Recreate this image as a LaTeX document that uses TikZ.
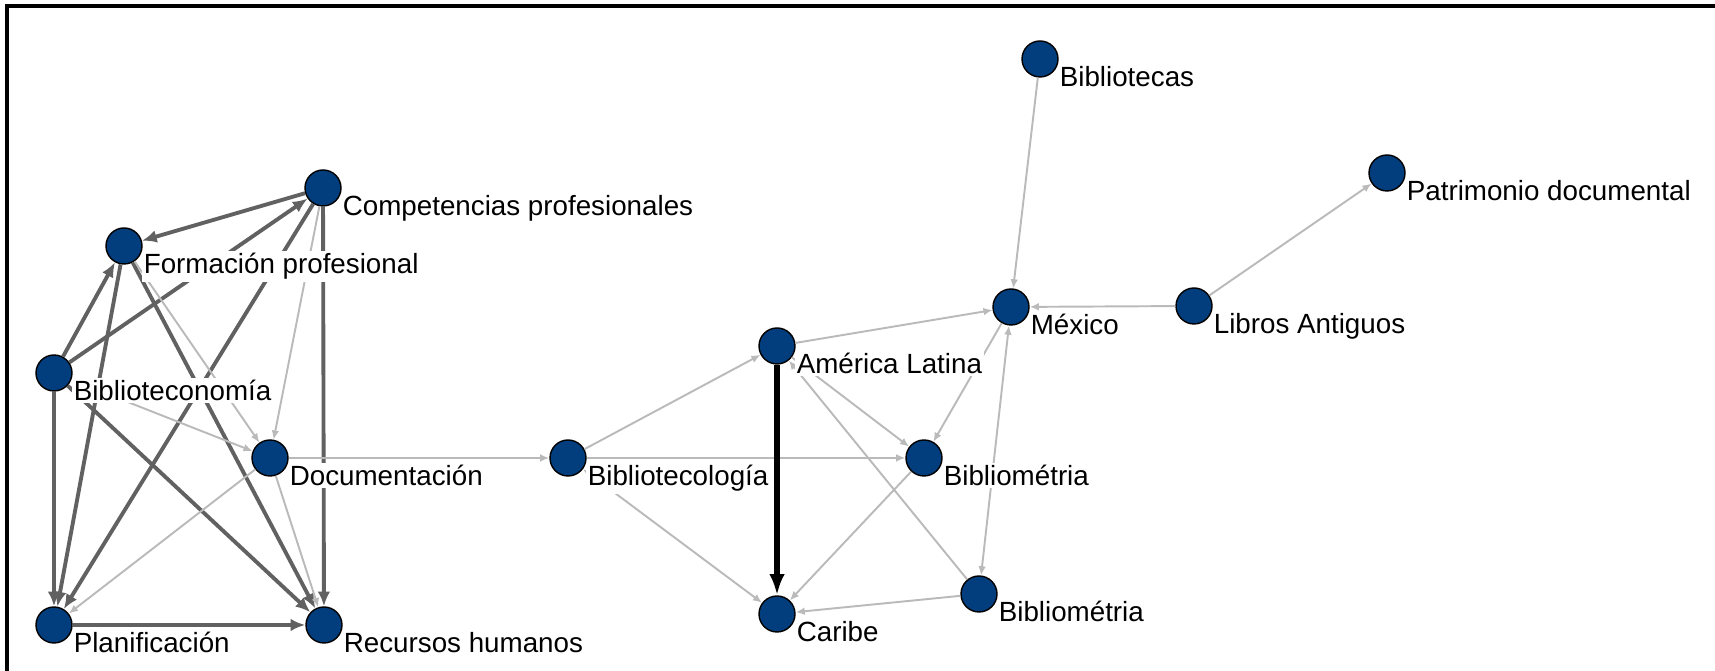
\documentclass[tikz,border=0pt]{standalone}
\usepackage{fontspec}
\setmainfont{Liberation Sans}
\usetikzlibrary{arrows.meta}

\definecolor{kwblue}{HTML}{023E7D}

\begin{document}
\begin{tikzpicture}[>=Latex,
  kw/.style={circle, draw=black, line width=0.4pt, fill=kwblue, minimum size=0.36cm, inner sep=0pt},
  lbl/.style={anchor=base west, fill=white, inner sep=0.6pt, font=\fontsize{7.9pt}{9pt}\selectfont},
  heavy/.style={draw=black!62, line width=1.1pt, -{Latex[length=4.2pt,width=3.6pt]}},
  light/.style={draw=black!27, line width=0.55pt, -{Latex[length=2.6pt,width=2.2pt]}},
  strong/.style={draw=black, line width=1.6pt, -{Latex[length=6pt,width=4.4pt]}}]

  \useasboundingbox (0,0) rectangle (17.15,6.71);

  % frame (top and left only)
  \draw[line width=0.9pt] (0.07,0) -- (0.07,6.65) -- (17.15,6.65);

  % keywords
  \foreach \n/\x/\y in {bibliotecas/10.40/6.12, patrimonio/13.87/4.98,
      competencias/3.23/4.83, formacion/1.24/4.25, mexico/10.11/3.64,
      libros/11.94/3.65, america/7.77/3.25, biblioteconomia/0.54/2.98,
      documentacion/2.70/2.13, bibliotecologia/5.68/2.13, biblio1/9.24/2.13,
      biblio2/9.79/0.77, caribe/7.77/0.57, planificacion/0.54/0.46,
      recursos/3.24/0.46}
    \node[kw] (\n) at (\x,\y) {};

  % strong ties
  \draw[heavy] (competencias) -- (formacion);
  \draw[heavy] (biblioteconomia) -- (competencias);
  \draw[heavy] (competencias) -- (planificacion);
  \draw[heavy] (competencias) -- (recursos);
  \draw[heavy] (formacion) -- (planificacion);
  \draw[heavy] (biblioteconomia) -- (formacion);
  \draw[heavy] (formacion) -- (recursos);
  \draw[heavy] (biblioteconomia) -- (planificacion);
  \draw[heavy] (biblioteconomia) -- (recursos);
  \draw[heavy] (planificacion) -- (recursos);

  % weak ties
  \draw[light] (competencias) -- (documentacion);
  \draw[light] (formacion) -- (documentacion);
  \draw[light, {Latex[length=2.6pt,width=2.2pt]}-{Latex[length=2.6pt,width=2.2pt]}] (biblioteconomia) -- (documentacion);
  \draw[light] (documentacion) -- (planificacion);
  \draw[light] (documentacion) -- (recursos);
  \draw[light] (documentacion) -- (bibliotecologia);
  \draw[light] (bibliotecologia) -- (america);
  \draw[light] (bibliotecologia) -- (biblio1);
  \draw[light, {Latex[length=2.6pt,width=2.2pt]}-{Latex[length=2.6pt,width=2.2pt]}] (bibliotecologia) -- (caribe);
  \draw[light] (america) -- (mexico);
  \draw[light] (america) -- (biblio1);
  \draw[light] (biblio2) -- (america);
  \draw[light] (mexico) -- (biblio1);
  \draw[light, {Latex[length=2.6pt,width=2.2pt]}-{Latex[length=2.6pt,width=2.2pt]}] (mexico) -- (biblio2);
  \draw[light] (biblio1) -- (caribe);
  \draw[light] (biblio2) -- (caribe);
  \draw[light] (bibliotecas) -- (mexico);
  \draw[light] (libros) -- (mexico);
  \draw[light] (libros) -- (patrimonio);

  \draw[strong] (america) -- (caribe);

  % labels
  \foreach \n/\t in {bibliotecas/Bibliotecas, patrimonio/Patrimonio documental,
      competencias/Competencias profesionales, formacion/Formación profesional,
      mexico/México, libros/Libros Antiguos, america/América Latina,
      biblioteconomia/Biblioteconomía, documentacion/Documentación,
      bibliotecologia/Bibliotecología, biblio1/Bibliométria,
      biblio2/Bibliométria, caribe/Caribe, planificacion/Planificación,
      recursos/Recursos humanos}
    \node[lbl] (\n-t) at ([shift={(0.17,-0.28)}]\n.center) {\t};

\end{tikzpicture}
\end{document}
